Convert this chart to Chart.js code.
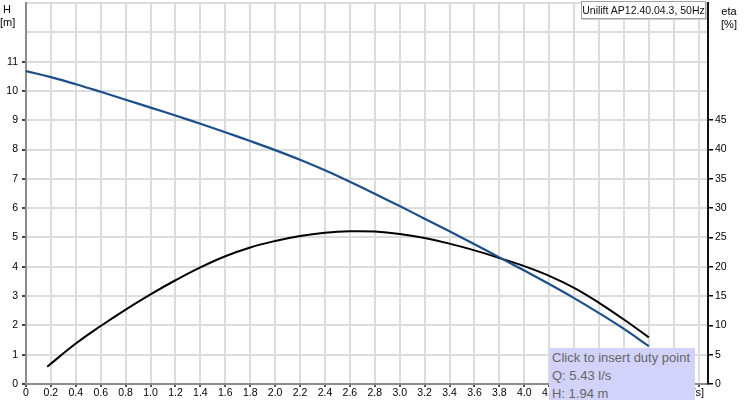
<!DOCTYPE html>
<html>
<head>
<meta charset="utf-8">
<script src="https://cdn.jsdelivr.net/npm/chart.js@4"></script>
<style>
    body { margin: 0; background: #fff; overflow: hidden; }
    #wrap { position: relative; width: 744px; height: 400px; font-family: "Liberation Sans", Arial, sans-serif; }
    .lbl { position: absolute; font-size: 11px; color: #000; text-align: center; line-height: 13px; }
    #legend { position: absolute; left: 581px; top: 1px; width: 123px; height: 16px; border: 1px solid #a0a0a0;
              box-shadow: 1px 1px 0 #d0d0d0; background: #fff; font-size: 10.5px; line-height: 16px; color: #111;
              text-align: center; white-space: nowrap; }
    #duty { position: absolute; left: 549px; top: 348px; width: 143px; height: 52px; background: #d2d2fa;
            color: #666; font-size: 13px; line-height: 18px; padding: 1px 0 0 3px; white-space: nowrap; }
</style>
</head>
<body>
<div id="wrap">
    <canvas id="curva" width="744" height="400"></canvas>
    <div class="lbl" style="left:0; top:3px; width:14px;">H<br>[m]</div>
    <div class="lbl" style="left:718px; top:5px; width:22px;">eta<br>[%]</div>
    <div class="lbl" style="left:640px; top:386px; width:64px; text-align:right;">Q [l/s]</div>
    <div id="legend">Unilift AP12.40.04.3, 50Hz</div>
    <div id="duty">Click to insert duty point<br>Q: 5.43 l/s<br>H: 1.94 m</div>
</div>
<script>
// Curva de altura (H) y rendimiento (eta) de la bomba
const qAltura = [0, 0.2, 0.4, 0.6, 0.8, 1.0, 1.2, 1.4, 1.6, 1.8, 2.0, 2.2, 2.4, 2.6, 2.8, 3.0, 3.2, 3.4, 3.6, 3.8, 4.0, 4.2, 4.4, 4.6, 4.8, 5.0];
const altura = [10.68, 10.47, 10.23, 9.97, 9.70, 9.43, 9.16, 8.88, 8.59, 8.29, 7.98, 7.65, 7.29, 6.90, 6.49, 6.07, 5.64, 5.21, 4.77, 4.32, 3.87, 3.41, 2.93, 2.42, 1.88, 1.29];

const qEta = [0.17, 0.4, 0.6, 0.8, 1.0, 1.2, 1.4, 1.6, 1.8, 2.0, 2.2, 2.4, 2.6, 2.8, 3.0, 3.2, 3.4, 3.6, 3.8, 4.0, 4.2, 4.4, 4.6, 4.8, 5.0];
const eta = [2.95, 6.9, 9.9, 12.7, 15.3, 17.7, 19.9, 21.8, 23.3, 24.4, 25.25, 25.8, 26.05, 26.0, 25.6, 24.9, 23.95, 22.8, 21.5, 20.1, 18.45, 16.4, 13.85, 11.0, 7.95];

const ticksQ = [0, 0.2, 0.4, 0.6, 0.8, 1.0, 1.2, 1.4, 1.6, 1.8, 2.0, 2.2, 2.4, 2.6, 2.8, 3.0, 3.2, 3.4, 3.6, 3.8, 4.0, 4.2, 4.4, 4.6, 4.8, 5.0, 5.2, 5.4];
const ticksH = [0, 1, 2, 3, 4, 5, 6, 7, 8, 9, 10, 11, 12, 13];
const ticksEta = [0, 5, 10, 15, 20, 25, 30, 35, 40, 45, 50, 55, 60, 65];

const fuente = { family: '"Liberation Sans", Arial, sans-serif', size: 10.5 };
const gris = '#dcdcdc';

// quitar el relleno que Chart.js agrega por las etiquetas de los extremos
function sinRelleno(s) {
    s.paddingTop = 0;
    s.paddingBottom = 0;
    s.paddingLeft = 0;
    s.paddingRight = 0;
}

new Chart(document.getElementById('curva'), {
    type: 'line',
    data: {
        datasets: [{
            label: 'H',
            data: qAltura.map((q, i) => ({ x: q, y: altura[i] })),
            borderColor: '#1c4f8a',
            borderWidth: 2.2,
            pointRadius: 0,
            tension: 0.4,
            yAxisID: 'y'
        }, {
            label: 'eta',
            data: qEta.map((q, i) => ({ x: q, y: eta[i] })),
            borderColor: '#000',
            borderWidth: 2,
            pointRadius: 0,
            tension: 0.4,
            yAxisID: 'y2'
        }]
    },
    options: {
        responsive: false,
        animation: false,
        layout: { padding: { top: 3, left: 0, right: 0, bottom: 0 } },
        plugins: { legend: { display: false }, tooltip: { enabled: false } },
        scales: {
            x: {
                type: 'linear',
                min: 0,
                max: 5.475,
                afterBuildTicks: s => { s.ticks = ticksQ.map(v => ({ value: v })); },
                afterFit: s => { s.height = 16; sinRelleno(s); },
                grid: { color: gris, lineWidth: 2, tickLength: 3, tickColor: '#555' },
                border: { color: '#8c8c8c', width: 2 },
                ticks: {
                    color: '#000', font: fuente, padding: 0, maxRotation: 0, autoSkip: false,
                    callback: v => v > 5.3 ? '' : (v === 0 ? '0' : v.toFixed(1))
                }
            },
            y: {
                position: 'left',
                min: 0,
                max: 13,
                afterBuildTicks: s => { s.ticks = ticksH.map(v => ({ value: v })); },
                afterFit: s => { s.width = 26; sinRelleno(s); },
                grid: {
                    color: gris, lineWidth: 2, tickLength: 4,
                    tickColor: ctx => ctx.tick && ctx.tick.value <= 11 ? '#444' : 'rgba(0,0,0,0)'
                },
                border: { color: '#8c8c8c', width: 2 },
                ticks: { color: '#000', font: fuente, padding: 4, callback: v => v <= 11 ? v : '' }
            },
            y2: {
                position: 'right',
                min: 0,
                max: 65,
                afterBuildTicks: s => { s.ticks = ticksEta.map(v => ({ value: v })); },
                afterFit: s => { s.width = 36; sinRelleno(s); },
                grid: {
                    drawOnChartArea: false, lineWidth: 1.5, tickLength: 5,
                    tickColor: ctx => ctx.tick && ctx.tick.value <= 45 ? '#000' : 'rgba(0,0,0,0)'
                },
                border: { color: '#111', width: 2 },
                ticks: { color: '#000', font: fuente, padding: 2, callback: v => v <= 45 ? v : '' }
            }
        }
    }
});
</script>
</body>
</html>
